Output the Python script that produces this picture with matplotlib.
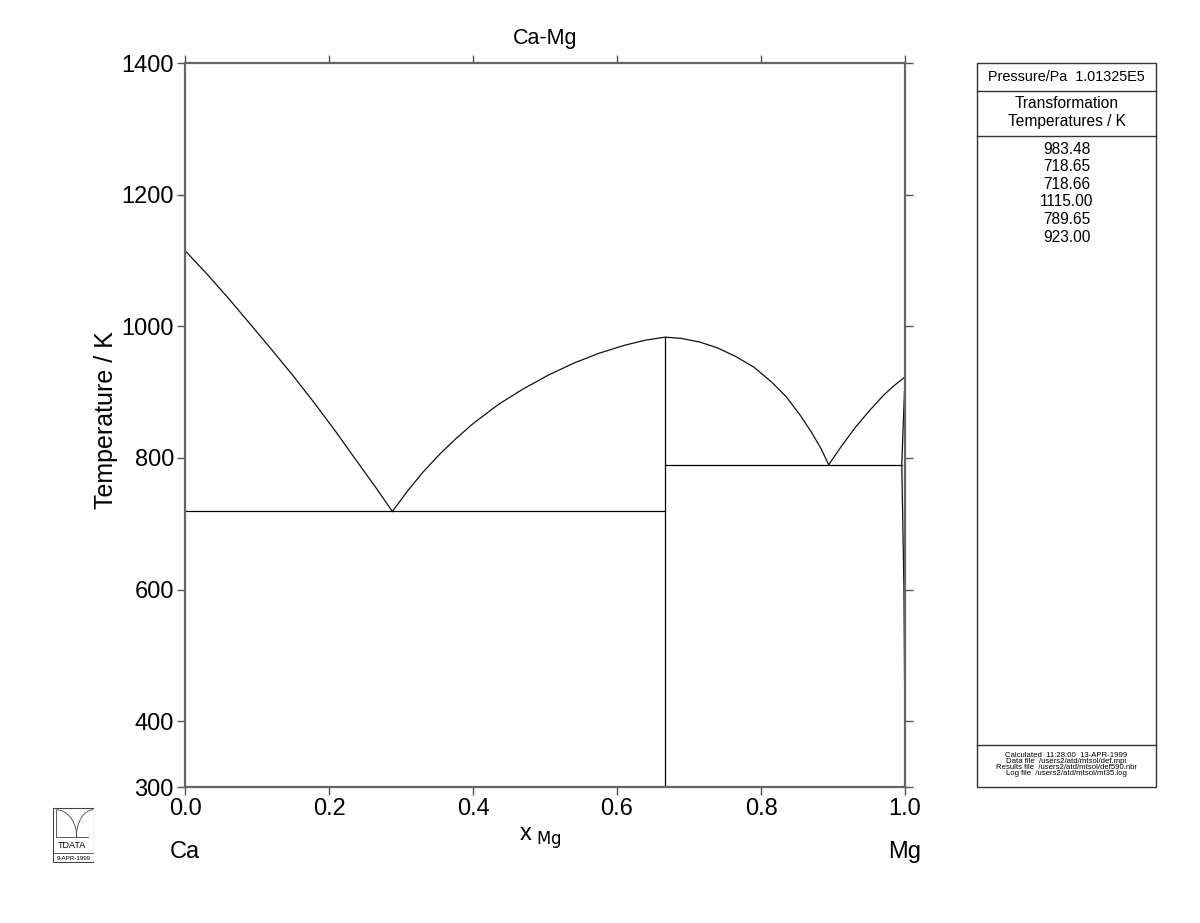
import matplotlib
matplotlib.use("Agg")
import matplotlib.pyplot as plt
from matplotlib.patches import Rectangle, Arc

plt.rcParams['font.family'] = ['Liberation Sans', 'DejaVu Sans']

# Liquidus, Ca side (Ca melting point down to the Ca-CaMg2 eutectic)
liq_ca_x = [0.000, 0.030, 0.060, 0.090, 0.120, 0.150, 0.180, 0.210, 0.240, 0.265, 0.288]
liq_ca_t = [1115.0, 1080.0, 1043.0, 1004.0, 965.0, 925.0, 883.0, 839.0, 793.0, 755.0, 718.65]

# Liquidus of CaMg2, left and right of the congruent maximum
liq_mid_x = [0.288, 0.310, 0.331, 0.355, 0.377, 0.400, 0.435, 0.470, 0.505, 0.540,
             0.575, 0.610, 0.640, 0.667,
             0.690, 0.715, 0.740, 0.765, 0.790, 0.815, 0.835, 0.855, 0.870, 0.883, 0.894]
liq_mid_t = [718.65, 751.0, 779.0, 807.0, 830.0, 852.0, 881.0, 905.0, 926.0, 944.0,
             959.0, 971.0, 979.0, 983.48,
             981.5, 976.0, 967.0, 954.0, 938.0, 915.0, 893.0, 864.0, 839.0, 815.0, 789.65]

# Liquidus, Mg side
liq_mg_x = [0.894, 0.910, 0.930, 0.950, 0.970, 0.985, 1.000]
liq_mg_t = [789.65, 815.0, 845.0, 871.0, 895.0, 910.0, 923.0]

# Mg solid solution: solidus and solvus
hcp_x = [1.0, 0.9955, 0.9970, 0.9985, 0.9995, 1.0]
hcp_t = [923.0, 789.65, 700.0, 600.0, 450.0, 300.0]

# invariants and the CaMg2 compound line
x_camg2 = 0.6667
t_eut1 = 718.65
t_eut2 = 789.65
t_camg2 = 983.48
x_eut2_end = 0.9955

xticks = [0.0, 0.2, 0.4, 0.6, 0.8, 1.0]
yticks = [300, 400, 600, 800, 1000, 1200, 1400]

panel_values = ["983.48", "718.65", "718.66", "1115.00", "789.65", "923.00"]
footer_lines = ["Calculated  11:28:00  13-APR-1999",
                "Data file  /users2/atd/mtsol/def.mpi",
                "Results file  /users2/atd/mtsol/def590.nbr",
                "Log file  /users2/atd/mtsol/mt35.log"]

W, H = 1200, 923
fig = plt.figure(figsize=(W / 100, H / 100), dpi=100)
ax = fig.add_axes([185 / W, 136 / H, 720 / W, 724 / H])

lw = 0.9
ax.plot(liq_ca_x, liq_ca_t, color='#111111', lw=lw)
ax.plot(liq_mid_x, liq_mid_t, color='#111111', lw=lw)
ax.plot(liq_mg_x, liq_mg_t, color='#111111', lw=lw)
ax.plot(hcp_x, hcp_t, color='#111111', lw=lw)
ax.plot([0.0, x_camg2], [t_eut1, t_eut1], color='black', lw=lw)
ax.plot([x_camg2, x_camg2], [300, t_camg2], color='black', lw=lw)
ax.plot([x_camg2, x_eut2_end], [t_eut2, t_eut2], color='black', lw=lw)

ax.set_xlim(0, 1)
ax.set_ylim(300, 1400)
ax.set_xticks(xticks)
ax.set_xticklabels([f"{v:.1f}" for v in xticks])
ax.set_yticks(yticks)
ax.tick_params(direction='out', length=6, width=1, color='#555555',
               top=True, right=True, labelsize=17, pad=2)
for s in ax.spines.values():
    s.set_color('#666666')
    s.set_linewidth(1.6)

ax.set_title("Ca-Mg", fontsize=15.5, pad=14)
ax.set_ylabel("Temperature / K", fontsize=18)
ax.yaxis.set_label_coords(-0.093, 0.507)
fig.text(540 / W, 1 - 838 / H, r"x$_{\ \mathrm{Mg}}$", fontsize=17, ha='center', va='center')
fig.text(170 / W, 1 - 852 / H, "Ca", fontsize=17, ha='left', va='center')
fig.text(921 / W, 1 - 852 / H, "Mg", fontsize=17, ha='right', va='center')

# right information panel
def fy(py):
    return 1 - py / H

px0, px1 = 977, 1156
fig.add_artist(Rectangle((px0 / W, fy(787)), (px1 - px0) / W, (787 - 63) / H,
                         transform=fig.transFigure, fill=False, ec='#333333', lw=1))
for py in [90.5, 136, 745]:
    fig.add_artist(plt.Line2D([px0 / W, px1 / W], [fy(py), fy(py)],
                              transform=fig.transFigure, color='#333333', lw=1))
cx = (px0 + px1) / 2 / W
fig.text(cx, fy(76.7), "Pressure/Pa  1.01325E5", fontsize=10.4, ha='center', va='center')
fig.text(cx, fy(103), "Transformation", fontsize=11.2, ha='center', va='center')
fig.text(cx, fy(121.7), "Temperatures / K", fontsize=11.2, ha='center', va='center')
for i, v in enumerate(panel_values):
    fig.text(cx, fy(149 + i * 17.6), v, fontsize=11.2, ha='center', va='center')
for i, line in enumerate(footer_lines):
    fig.text(cx, fy(755.7 + i * 5.9), line, fontsize=5.6, ha='center', va='center')

# GTT-DATA logo, bottom left
lax = fig.add_axes([53 / W, fy(863), 41 / W, 56 / H])
lax.set_xlim(0, 1)
lax.set_ylim(0, 1)
lax.axis('off')
lax.add_patch(Rectangle((0.01, 0.01), 0.98, 0.98, fill=False, ec='#444444', lw=0.8))
lax.plot([0.01, 0.99], [0.17, 0.17], color='#444444', lw=0.6)
lax.plot([0.08, 0.85], [0.46, 0.46], color='#444444', lw=0.6)
lax.plot([0.08, 0.08], [0.46, 0.95], color='#444444', lw=0.6)
lax.add_patch(Arc((0.08, 0.46), 1.0, 0.98, theta1=0, theta2=90, color='#444444', lw=0.6))
lax.add_patch(Arc((0.98, 0.46), 0.82, 0.98, theta1=90, theta2=180, color='#444444', lw=0.6))
lax.text(0.47, 0.32, "TDATA", fontsize=6.5, ha='center', va='center')
lax.text(0.5, 0.08, "9-APR-1999", fontsize=4.5, ha='center', va='center')

fig.savefig("out.png", dpi=100)
